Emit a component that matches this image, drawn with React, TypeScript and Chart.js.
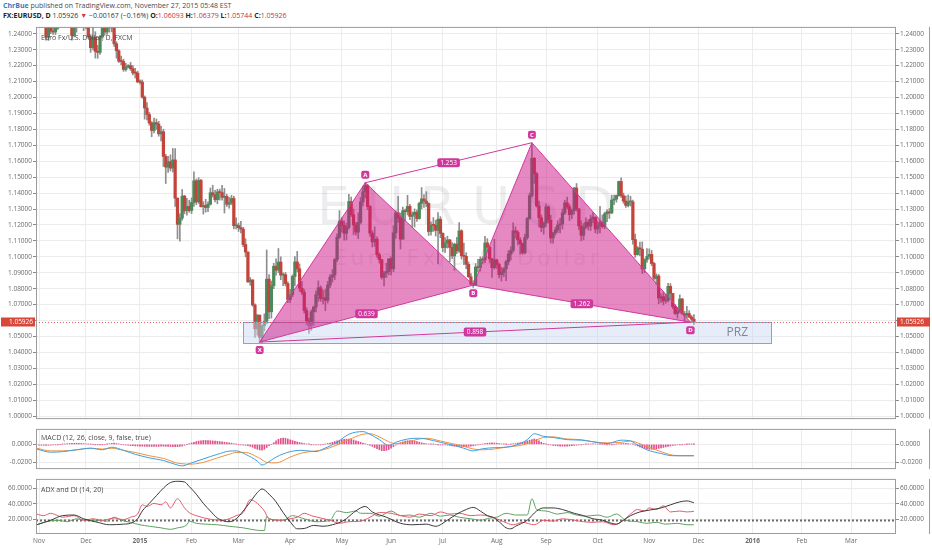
import React, { useEffect, useRef } from 'react';
import { Chart, registerables } from 'chart.js';

Chart.register(...registerables);

const FONT = "'Open Sans', 'Noto Sans', sans-serif";
const WM_FONT = "'DejaVu Sans', sans-serif";

// ---------- DATA ----------
// x = trading-day index, 0 = Mon 3 Nov 2014 (every weekday is a bar)
const monthTickIdx = [0, 20, 43, 65, 85, 107, 129, 150, 172, 195, 216, 238, 260, 281, 304, 325, 346];
const monthTickLabels = ['Nov', 'Dec', '2015', 'Feb', 'Mar', 'Apr', 'May', 'Jun', 'Jul', 'Aug', 'Sep', 'Oct', 'Nov', 'Dec', '2016', 'Feb', 'Mar'];
const yearLabels = ['2015', '2016'];

const priceTicks = [1.0, 1.01, 1.02, 1.03, 1.04, 1.05, 1.06, 1.07, 1.08, 1.09, 1.1, 1.11, 1.12, 1.13, 1.14, 1.15, 1.16, 1.17, 1.18, 1.19, 1.2, 1.21, 1.22, 1.23, 1.24];
const hiddenPriceTick = 1.06;
const macdTicks = [0, -0.02];
const adxTicks = [20, 40, 60];

const firstOpen = 1.2525;
const closes = [
  1.2482, 1.2503, 1.2487, 1.2378, 1.2454, 1.2416, 1.2411, 1.2435, 1.2476, 1.2527, 1.2452, 1.2537, 1.2544, 1.2542, 1.2389, 1.2438, 1.2469, 1.2504, 1.2467, 1.2450,
  1.2470, 1.2381, 1.2313, 1.2378, 1.2289, 1.2283, 1.2380, 1.2445, 1.2411, 1.2465, 1.2437, 1.2500, 1.2337, 1.2293, 1.2228, 1.2226, 1.2176, 1.2191, 1.2200, 1.2181, 1.2154, 1.2153, 1.2098,
  1.2097, 1.2002, 1.1934, 1.1893, 1.1840, 1.1793, 1.1842, 1.1833, 1.1772, 1.1785, 1.1630, 1.1563, 1.1597, 1.1557, 1.1608, 1.1368, 1.1204, 1.1243, 1.1381, 1.1289, 1.1317, 1.1291,
  1.1341, 1.1477, 1.1345, 1.1479, 1.1315, 1.1322, 1.1310, 1.1330, 1.1402, 1.1389, 1.1359, 1.1407, 1.1403, 1.1373, 1.1379, 1.1330, 1.1339, 1.1366, 1.1195, 1.1196,
  1.1183, 1.1174, 1.1077, 1.1030, 1.0843, 1.0854, 1.0698, 1.0548, 1.0634, 1.0495, 1.0567, 1.0595, 1.0860, 1.0655, 1.0819, 1.0941, 1.0917, 1.0967, 1.0885, 1.0888, 1.0832, 1.0732,
  1.0763, 1.0877, 1.0968, 1.0925, 1.0803, 1.0778, 1.0663, 1.0598, 1.0569, 1.0655, 1.0685, 1.0762, 1.0806, 1.0737, 1.0743, 1.0727, 1.0823, 1.0873, 1.0886, 1.0983, 1.1124, 1.1224,
  1.1198, 1.1148, 1.1185, 1.1347, 1.1264, 1.1200, 1.1155, 1.1216, 1.1345, 1.1409, 1.1448, 1.1316, 1.1149, 1.1094, 1.1111, 1.1013, 1.0982, 1.0872, 1.0899, 1.0907, 1.0987,
  1.0925, 1.1151, 1.1277, 1.1244, 1.1111, 1.1290, 1.1283, 1.1317, 1.1254, 1.1264, 1.1280, 1.1240, 1.1335, 1.1363, 1.1350, 1.1335, 1.1159, 1.1201, 1.1198, 1.1166, 1.1236, 1.1147,
  1.1058, 1.1087, 1.1106, 1.1059, 1.1006, 1.1079, 1.1037, 1.1163, 1.1006, 1.1003, 1.0953, 1.0875, 1.0829, 1.0826, 1.0936, 1.0932, 1.0984, 1.0981, 1.1087, 1.1060, 1.0987, 1.0932, 1.0981,
  1.0952, 1.0888, 1.0902, 1.0925, 1.0969, 1.1017, 1.1040, 1.1163, 1.1153, 1.1106, 1.1083, 1.1025, 1.1121, 1.1240, 1.1384, 1.1618, 1.1521, 1.1319, 1.1245, 1.1184, 1.1211,
  1.1313, 1.1229, 1.1118, 1.1150, 1.1169, 1.1200, 1.1206, 1.1276, 1.1339, 1.1314, 1.1265, 1.1290, 1.1432, 1.1300, 1.1194, 1.1135, 1.1186, 1.1216, 1.1193, 1.1237, 1.1249, 1.1175,
  1.1195, 1.1215, 1.1191, 1.1270, 1.1282, 1.1276, 1.1356, 1.1362, 1.1385, 1.1473, 1.1383, 1.1350, 1.1323, 1.1345, 1.1345, 1.1108, 1.1014, 1.1056, 1.1048, 1.0925, 1.0981, 1.1002,
  1.1015, 1.0958, 1.0865, 1.0879, 1.0741, 1.0750, 1.0724, 1.0728, 1.0815, 1.0770, 1.0687, 1.0644, 1.0655, 1.0735, 1.0644, 1.0633, 1.0644, 1.0622, 1.0609, 1.0593,
];
const highs = [
  1.2530, 1.2535, 1.2533, 1.2532, 1.2469, 1.2470, 1.2466, 1.2479, 1.2494, 1.2545, 1.2577, 1.2545, 1.2599, 1.2602, 1.2600, 1.2448, 1.2499, 1.2532, 1.2509, 1.2481,
  1.2500, 1.2480, 1.2395, 1.2456, 1.2413, 1.2327, 1.2390, 1.2460, 1.2457, 1.2472, 1.2478, 1.2570, 1.2510, 1.2350, 1.2300, 1.2260, 1.2240, 1.2215, 1.2206, 1.2220, 1.2200, 1.2183, 1.2165,
  1.2110, 1.2110, 1.2010, 1.1968, 1.1906, 1.1849, 1.1870, 1.1865, 1.1850, 1.1819, 1.1801, 1.1643, 1.1630, 1.1640, 1.1680, 1.1679, 1.1370, 1.1270, 1.1423, 1.1386, 1.1367, 1.1355,
  1.1370, 1.1534, 1.1488, 1.1497, 1.1487, 1.1346, 1.1361, 1.1345, 1.1432, 1.1449, 1.1417, 1.1424, 1.1425, 1.1449, 1.1429, 1.1393, 1.1373, 1.1386, 1.1380, 1.1245,
  1.1212, 1.1223, 1.1185, 1.1114, 1.1032, 1.0870, 1.0858, 1.0705, 1.0638, 1.0635, 1.0573, 1.0642, 1.1043, 1.0888, 1.0848, 1.0959, 1.0988, 1.1052, 1.1000, 1.0900, 1.0902, 1.0843,
  1.0796, 1.0887, 1.1001, 1.1034, 1.0956, 1.0846, 1.0795, 1.0680, 1.0615, 1.0667, 1.0691, 1.0785, 1.0849, 1.0818, 1.0791, 1.0797, 1.0846, 1.0888, 1.0920, 1.0989, 1.1144, 1.1290,
  1.1246, 1.1224, 1.1211, 1.1392, 1.1375, 1.1300, 1.1217, 1.1276, 1.1372, 1.1444, 1.1467, 1.1455, 1.1322, 1.1163, 1.1188, 1.1126, 1.1025, 1.0985, 1.0909, 1.0960, 1.0989,
  1.1000, 1.1195, 1.1290, 1.1380, 1.1275, 1.1312, 1.1300, 1.1386, 1.1330, 1.1282, 1.1301, 1.1293, 1.1343, 1.1435, 1.1390, 1.1409, 1.1339, 1.1219, 1.1246, 1.1229, 1.1278, 1.1252,
  1.1151, 1.1120, 1.1130, 1.1110, 1.1089, 1.1086, 1.1122, 1.1215, 1.1170, 1.1086, 1.1026, 1.0968, 1.0895, 1.0850, 1.0958, 1.0985, 1.1000, 1.1000, 1.1128, 1.1114, 1.1068, 1.0990, 1.1110,
  1.0985, 1.0960, 1.0934, 1.0932, 1.0978, 1.1039, 1.1063, 1.1213, 1.1188, 1.1165, 1.1121, 1.1086, 1.1143, 1.1247, 1.1400, 1.1714, 1.1624, 1.1530, 1.1350, 1.1263, 1.1218,
  1.1331, 1.1320, 1.1262, 1.1154, 1.1187, 1.1227, 1.1242, 1.1300, 1.1355, 1.1375, 1.1330, 1.1300, 1.1436, 1.1460, 1.1302, 1.1226, 1.1209, 1.1245, 1.1232, 1.1262, 1.1277, 1.1250,
  1.1220, 1.1317, 1.1263, 1.1280, 1.1295, 1.1303, 1.1387, 1.1388, 1.1388, 1.1475, 1.1495, 1.1400, 1.1382, 1.1388, 1.1380, 1.1356, 1.1143, 1.1065, 1.1093, 1.1094, 1.0988, 1.1052,
  1.1050, 1.1040, 1.0965, 1.0893, 1.0890, 1.0768, 1.0780, 1.0765, 1.0833, 1.0832, 1.0771, 1.0700, 1.0681, 1.0761, 1.0739, 1.0658, 1.0690, 1.0662, 1.0632, 1.0638,
];
const lows = [
  1.2442, 1.2440, 1.2456, 1.2359, 1.2358, 1.2400, 1.2396, 1.2395, 1.2427, 1.2445, 1.2443, 1.2443, 1.2505, 1.2500, 1.2359, 1.2380, 1.2410, 1.2447, 1.2455, 1.2419,
  1.2430, 1.2372, 1.2283, 1.2299, 1.2247, 1.2246, 1.2270, 1.2370, 1.2390, 1.2395, 1.2410, 1.2412, 1.2320, 1.2247, 1.2219, 1.2205, 1.2164, 1.2165, 1.2186, 1.2170, 1.2141, 1.2122, 1.2092,
  1.2085, 1.1995, 1.1864, 1.1859, 1.1826, 1.1754, 1.1778, 1.1800, 1.1757, 1.1727, 1.1567, 1.1460, 1.1530, 1.1539, 1.1532, 1.1316, 1.1113, 1.1098, 1.1230, 1.1270, 1.1262, 1.1279,
  1.1271, 1.1317, 1.1327, 1.1335, 1.1312, 1.1268, 1.1280, 1.1283, 1.1325, 1.1375, 1.1345, 1.1333, 1.1356, 1.1356, 1.1275, 1.1316, 1.1305, 1.1327, 1.1175, 1.1175,
  1.1159, 1.1150, 1.1063, 1.1000, 1.0840, 1.0821, 1.0689, 1.0494, 1.0508, 1.0462, 1.0458, 1.0535, 1.0580, 1.0612, 1.0615, 1.0800, 1.0885, 1.0900, 1.0856, 1.0819, 1.0817, 1.0713,
  1.0712, 1.0750, 1.0818, 1.0905, 1.0783, 1.0762, 1.0647, 1.0573, 1.0520, 1.0538, 1.0570, 1.0655, 1.0720, 1.0720, 1.0705, 1.0662, 1.0710, 1.0807, 1.0842, 1.0858, 1.0970, 1.1114,
  1.1155, 1.1105, 1.1106, 1.1173, 1.1253, 1.1139, 1.1136, 1.1114, 1.1206, 1.1320, 1.1370, 1.1296, 1.1128, 1.1062, 1.1065, 1.0996, 1.0960, 1.0860, 1.0818, 1.0870, 1.0887,
  1.0886, 1.0907, 1.1116, 1.1216, 1.1049, 1.1110, 1.1225, 1.1263, 1.1233, 1.1187, 1.1187, 1.1222, 1.1236, 1.1300, 1.1310, 1.1315, 1.1134, 1.1136, 1.1160, 1.1130, 1.0955, 1.1120,
  1.1032, 1.1028, 1.1055, 1.0968, 1.0990, 1.0915, 1.1020, 1.1027, 1.0986, 1.0950, 1.0925, 1.0870, 1.0826, 1.0808, 1.0820, 1.0906, 1.0910, 1.0957, 1.0963, 1.1030, 1.0965, 1.0870, 1.0922,
  1.0928, 1.0868, 1.0848, 1.0875, 1.0850, 1.0950, 1.0980, 1.1028, 1.1117, 1.1075, 1.1016, 1.1015, 1.1018, 1.1110, 1.1235, 1.1375, 1.1461, 1.1312, 1.1188, 1.1157, 1.1142,
  1.1190, 1.1213, 1.1087, 1.1086, 1.1136, 1.1153, 1.1150, 1.1175, 1.1265, 1.1300, 1.1228, 1.1240, 1.1268, 1.1287, 1.1170, 1.1100, 1.1106, 1.1176, 1.1168, 1.1165, 1.1215, 1.1150,
  1.1145, 1.1150, 1.1180, 1.1176, 1.1220, 1.1240, 1.1270, 1.1328, 1.1343, 1.1380, 1.1373, 1.1336, 1.1310, 1.1313, 1.1319, 1.1080, 1.0996, 1.1010, 1.1007, 1.0895, 1.0900, 1.0965,
  1.0987, 1.0945, 1.0853, 1.0827, 1.0706, 1.0712, 1.0698, 1.0708, 1.0717, 1.0737, 1.0674, 1.0638, 1.0616, 1.0651, 1.0638, 1.0592, 1.0618, 1.0617, 1.0593, 1.0574,
];

// MACD (12, 26, close, 9)
const macdIdx = [-1, 5, 10, 16, 22, 27, 31, 36, 41, 47, 53, 59, 61, 64, 70, 76, 81, 84, 88, 93, 95, 97, 101, 107, 112, 118, 121, 127, 132, 138, 141, 145, 149, 152, 157, 162, 165, 171, 176, 181, 185, 189, 194, 199, 205, 208, 211, 215, 219, 225, 231, 236, 242, 248, 252, 255, 259, 265, 270, 274, 279];
const macdLine = [-0.0052, -0.0088, -0.0082, -0.0061, -0.0043, -0.0061, -0.0031, -0.0067, -0.0112, -0.0152, -0.0182, -0.0233, -0.0243, -0.0218, -0.0164, -0.0112, -0.0076, -0.0073, -0.0112, -0.0188, -0.0233, -0.0212, -0.0143, -0.0082, -0.0067, -0.0082, -0.0052, 0.0024, 0.0115, 0.0145, 0.0115, 0.0054, -0.0012, 0.0024, 0.0061, 0.0070, 0.0061, 0.0024, -0.0006, -0.0043, -0.0073, -0.0049, -0.0037, -0.0031, 0.0009, 0.0054, 0.0121, 0.0091, 0.0079, 0.0054, 0.0048, 0.0030, 0.0009, 0.0048, 0.0039, -0.0006, -0.0061, -0.0103, -0.0128, -0.0128, -0.0128];
const signalLine = [-0.0043, -0.0073, -0.0073, -0.0061, -0.0043, -0.0052, -0.0043, -0.0067, -0.0091, -0.0128, -0.0158, -0.0212, -0.0218, -0.0224, -0.0203, -0.0152, -0.0112, -0.0091, -0.0091, -0.0143, -0.0173, -0.0203, -0.0209, -0.0143, -0.0097, -0.0073, -0.0061, -0.0006, 0.0054, 0.0115, 0.0121, 0.0085, 0.0030, 0.0009, 0.0030, 0.0061, 0.0070, 0.0039, 0.0009, -0.0021, -0.0052, -0.0061, -0.0052, -0.0031, -0.0012, 0.0009, 0.0039, 0.0079, 0.0085, 0.0061, 0.0054, 0.0030, 0.0018, 0.0024, 0.0039, 0.0018, -0.0024, -0.0082, -0.0122, -0.0128, -0.0128];
// histogram, one value per bar, in units of 0.0001
const histE4 = [
  -8, -9, -10, -10, -9, -8, -6, -4, -2, 0,
  2, 5, 8, 10, 12, 13, 14, 13, 11, 9,
  6, 4, 2, 0, -2, -3, -2, -1, 0,
  4, 8, 12, 14, 10,
  5, 0, -4, -7, -10, -13, -15, -17, -18, -19, -20, -21, -22, -22, -23, -23, -22, -22, -21, -21, -22, -23, -24, -25, -25, -26, -24, -18, -10,
  0, 8, 16, 24, 32, 38, 42, 45, 45, 44, 42, 40, 38, 35,
  32, 28, 25, 22, 18, 13, 8, 3,
  -2, -5, -8, -10, -14,
  -22, -32, -45, -55, -62, -66, -55,
  -35, -15, 0,
  20, 40, 58, 68, 72, 70, 62,
  52, 44, 36, 28, 22, 16, 10,
  6, 2, -2, -5, -6, -5, -3, 0,
  4, 10, 16, 24, 32, 40, 48, 54, 58, 60, 60, 56, 50, 42,
  34, 25, 16, 8, 0,
  -10, -22, -35, -48, -60, -70, -72, -68, -58, -42, -25,
  -8, 8, 20, 30, 38, 42, 44, 42, 38, 32, 25, 18, 12,
  8, 5, 3, 2, 0, -2, -3, -4, -5,
  -8, -12, -16, -20, -22, -24, -25, -26, -25, -23, -20, -16, -10, -5, 0,
  5, 10, 14, 16, 17, 16, 14, 10, 6,
  3, 1, 0, 2,
  6, 10, 15, 20, 25, 32, 40, 48, 56, 62, 55, 40, 25,
  12, 4, -2, -6,
  -10, -14, -17, -19, -20, -20, -19, -17, -15, -12, -9, -6, -3,
  0, 2, 4, 5, 6, 5, 4, 3, 2, 0, -2, -3, -2, 0,
  3, 6, 9, 11, 12, 10, 6, 2,
  -8, -18, -28, -38, -46, -52, -55, -56, -55, -50, -45, -40, -34, -28, -22, -17, -12, -8,
  -6, -3, -1, 0, 1, 2, 2, 1,
];

// ADX and DI (14, 20)
const adxIdx = [-1, 5, 10, 15, 19, 25, 30, 36, 39, 42, 44, 47, 50, 53, 56, 59, 62, 64, 67, 70, 73, 76, 79, 81, 84, 87, 90, 93, 95, 98, 101, 104, 107, 110, 113, 117, 121, 125, 130, 134, 137, 139, 142, 148, 154, 159, 165, 169, 174, 178, 182, 185, 188, 191, 194, 196, 199, 201, 203, 208, 212, 215, 219, 223, 228, 232, 236, 240, 243, 246, 249, 252, 256, 260, 265, 269, 273, 276, 279];
const adxVals = [13.4, 19.2, 25, 25.8, 21, 16.5, 13.4, 14.2, 15.3, 21, 30.9, 40.6, 50.3, 60, 67, 68.6, 67.8, 62, 52.3, 40.6, 30.9, 21.9, 18, 17.3, 21, 30.9, 42.5, 54.2, 58.9, 52.3, 42.5, 28.9, 17.3, 8.3, 8.7, 12.6, 11.5, 13.4, 19.2, 28.9, 34.8, 36.7, 29.7, 23, 15.3, 13.4, 14.2, 11.5, 19.2, 27, 32.8, 35.5, 30.9, 25, 22, 17.3, 9.5, 8.3, 11.5, 19.2, 30.9, 34.8, 34.8, 32.8, 28, 25, 21, 19.2, 16.1, 14.2, 19.2, 25, 29.7, 32, 34.8, 38.7, 42.5, 43.7, 41.4];
const diPlusIdx = [-1, 3, 8, 12, 16, 20, 25, 29, 32, 35, 39, 43, 47, 52, 56, 59, 63, 64, 67, 71, 76, 81, 87, 93, 96, 97, 98, 104, 108, 113, 118, 124, 127, 131, 135, 137, 141, 145, 150, 154, 158, 162, 167, 171, 175, 179, 184, 188, 192, 195, 199, 203, 208, 210, 212, 216, 221, 225, 229, 233, 238, 242, 246, 250, 255, 259, 263, 267, 272, 276, 279];
const diPlusVals = [13.4, 17.3, 19.2, 17.3, 21, 19.2, 19.2, 18, 23, 19.2, 16.5, 13.4, 11.5, 9.5, 7.6, 9.5, 13.4, 18, 15.3, 14.2, 13.4, 11.5, 9.5, 6.4, 6, 24, 21, 19.2, 25, 21, 17.3, 19.2, 30.9, 28.9, 30.9, 28, 28, 24.3, 30.9, 25, 25.8, 23, 28, 24.3, 25.8, 23, 21, 19.2, 21.9, 23, 28, 25.8, 25.8, 46.4, 32.8, 30.9, 27, 28.9, 25.8, 24.3, 25.8, 23, 27, 19.2, 17.3, 15.3, 16.5, 14.2, 15.3, 13.4, 13.4];
const diMinusIdx = [-1, 2, 5, 8, 10, 15, 19, 23, 27, 32, 36, 39, 42, 44, 46, 49, 52, 54, 56, 59, 62, 64, 67, 73, 78, 81, 84, 87, 90, 93, 96, 98, 103, 107, 110, 113, 116, 120, 124, 128, 132, 137, 141, 145, 150, 154, 158, 162, 167, 171, 175, 179, 184, 188, 192, 195, 198, 202, 206, 211, 215, 219, 223, 228, 232, 236, 240, 245, 249, 252, 255, 258, 260, 263, 266, 269, 273, 276, 279];
const diMinusVals = [27, 25, 28, 25, 23, 25, 19, 21, 19, 22, 20, 23, 27, 38.7, 36.7, 40.6, 38.7, 42.5, 34.8, 46.4, 34.8, 28.9, 25, 20.4, 19.2, 21, 25, 28.9, 45.3, 40.6, 30.9, 21, 19.2, 21, 23, 28, 25, 21.9, 19.2, 15.3, 17.3, 18, 23, 28.9, 28, 25, 23, 27, 25, 29.7, 27, 28, 25, 25.8, 24.3, 21, 17.3, 13.4, 16.5, 13.4, 19.2, 18, 21, 19.2, 17.3, 16.5, 17.3, 13.4, 19.2, 27, 32.8, 30.9, 34.8, 32.8, 37.5, 29.7, 30.9, 29.7, 30.5];
const adxLevel = 20;

// XABCD pattern drawing
const patternNames = ['X', 'A', 'B', 'C', 'D'];
const patternIdx = [94, 139, 185, 210, 277.5];
const patternPrice = [1.0465, 1.1465, 1.0822, 1.1716, 1.0590];
const ratioLabels = ['0.639', '1.253', '1.262', '0.898'];
const ratioFrom = [0, 1, 2, 0];
const ratioTo = [2, 3, 4, 4];
const przIdx = [87, 312];
const przPrice = [1.0593, 1.0460];
const przLabelAt = [297.5, 1.0526];

const lastPrice = 1.05926;
const quoteChange = '\u22120.00167 (\u22120.16%)';
const quoteOHLC = ['1.06093', '1.06379', '1.05744', '1.05926'];

// ---------- VIEW ----------
const X_MIN = -1.28;
const X_MAX = 365.1;
const PRICE_MIN = 0.99816;
const PRICE_MAX = 1.24429;
const MACD_MIN = -0.02791;
const MACD_MAX = 0.01755;
const ADX_MIN = 1.69;
const ADX_MAX = 71.66;

const GRID = '#ececec';
const FRAME = '#9c9c9c';
const TICK_TXT = '#6b6b6b';
const PINK = '#d1389d';

function xScale(withLabels: boolean): any {
  return {
    type: 'linear',
    min: X_MIN,
    max: X_MAX,
    offset: false,
    afterBuildTicks: (s: any) => {
      s.ticks = monthTickIdx.map((v) => ({ value: v }));
    },
    grid: { color: GRID, drawTicks: false, offset: false },
    border: { display: false },
    ticks: withLabels
      ? {
          autoSkip: false,
          maxRotation: 0,
          padding: 3,
          color: TICK_TXT,
          font: (c: any) => ({
            family: FONT,
            size: 6.5,
            weight: c.tick && yearLabels.includes(c.tick.label) ? 'bold' : 'normal',
          }),
          callback: (v: number) => monthTickLabels[monthTickIdx.indexOf(v)] ?? '',
        }
      : { display: false },
    afterFit: (s: any) => {
      s.height = withLabels ? 16 : 0;
    },
  };
}

function yScale(pos: 'left' | 'right', min: number, max: number, ticks: number[], fmt: (v: number) => string): any {
  return {
    type: 'linear',
    position: pos,
    min,
    max,
    afterBuildTicks: (s: any) => {
      s.ticks = ticks.map((v) => ({ value: v }));
    },
    grid: {
      color: GRID,
      drawOnChartArea: pos === 'left',
      drawTicks: true,
      tickLength: 3,
      tickColor: '#8a8a8a',
    },
    border: { display: false },
    ticks: {
      autoSkip: false,
      padding: 1,
      color: TICK_TXT,
      font: { family: FONT, size: 6.5 },
      callback: (v: number) => fmt(v),
    },
    afterFit: (s: any) => {
      s.width = 36;
    },
  };
}

const baseOptions = {
  responsive: false,
  maintainAspectRatio: false,
  animation: false,
  events: [],
  layout: { padding: 0, autoPadding: false },
  plugins: { legend: { display: false }, tooltip: { enabled: false }, title: { display: false } },
};

function drawFrame(chart: any) {
  const { ctx, chartArea: a, width } = chart;
  ctx.save();
  ctx.strokeStyle = FRAME;
  ctx.lineWidth = 1;
  ctx.strokeRect(a.left + 0.5, a.top + 0.5, a.width - 1, a.height - 1);
  ctx.beginPath();
  ctx.moveTo(width - 2.5, a.top);
  ctx.lineTo(width - 2.5, a.bottom);
  ctx.stroke();
  ctx.restore();
}

function panelTitle(chart: any, text: string, dy: number) {
  const { ctx, chartArea: a } = chart;
  ctx.save();
  ctx.fillStyle = '#4a4a4a';
  ctx.font = `7px ${FONT}`;
  ctx.textAlign = 'left';
  ctx.textBaseline = 'middle';
  ctx.fillText(text, a.left + 5, a.top + dy);
  ctx.restore();
}

function tag(ctx: CanvasRenderingContext2D, text: string, cx: number, cy: number, font: string, padX: number, h: number) {
  ctx.font = font;
  const w = ctx.measureText(text).width + padX * 2;
  ctx.fillStyle = PINK;
  ctx.beginPath();
  (ctx as any).roundRect(cx - w / 2, cy - h / 2, w, h, 2);
  ctx.fill();
  ctx.fillStyle = '#ffffff';
  ctx.textAlign = 'center';
  ctx.textBaseline = 'middle';
  ctx.fillText(text, cx, cy + 0.5);
}

function spacedText(ctx: any, text: string, cx: number, cy: number, font: string, spacing: number) {
  ctx.font = font;
  ctx.letterSpacing = `${spacing}px`;
  ctx.fillText(text, cx + spacing / 2, cy);
  ctx.letterSpacing = '0px';
}

const mainDecor = {
  id: 'mainDecor',
  beforeDatasetsDraw(chart: any) {
    const { ctx, chartArea: a } = chart;
    ctx.save();
    ctx.beginPath();
    ctx.rect(a.left, a.top, a.width, a.height);
    ctx.clip();
    ctx.fillStyle = 'rgba(60,60,75,0.09)';
    ctx.textAlign = 'center';
    ctx.textBaseline = 'middle';
    const cx = (a.left + a.right) / 2;
    spacedText(ctx, 'EURUSD', cx, a.top + 184, `52px ${WM_FONT}`, 16);
    spacedText(ctx, 'Euro Fx/U.S. Dollar', cx, a.top + 232, `22px ${WM_FONT}`, 3.3);
    ctx.restore();
  },
  afterDatasetsDraw(chart: any) {
    const { ctx, chartArea: a, scales } = chart;
    const px = (i: number) => scales.x.getPixelForValue(i);
    const py = (v: number) => scales.y.getPixelForValue(v);
    ctx.save();
    ctx.beginPath();
    ctx.rect(a.left, a.top, a.width, a.height);
    ctx.clip();

    // PRZ box
    const x0 = px(przIdx[0]);
    const x1 = px(przIdx[1]);
    const y0 = py(przPrice[0]);
    const y1 = py(przPrice[1]);
    ctx.fillStyle = 'rgba(200,215,240,0.45)';
    ctx.fillRect(x0, y0, x1 - x0, y1 - y0);
    ctx.strokeStyle = '#8fa2c6';
    ctx.lineWidth = 1;
    ctx.strokeRect(Math.round(x0) + 0.5, Math.round(y0) + 0.5, Math.round(x1 - x0), Math.round(y1 - y0));

    // last price line
    const yl = Math.round(py(lastPrice)) + 0.5;
    ctx.strokeStyle = 'rgba(226,80,80,0.9)';
    ctx.setLineDash([1, 2]);
    ctx.beginPath();
    ctx.moveTo(a.left, yl);
    ctx.lineTo(a.right, yl);
    ctx.stroke();
    ctx.setLineDash([]);

    // XABCD
    const P = patternIdx.map((i, k) => [px(i), py(patternPrice[k])]);
    const [X, A, B, C, D] = P;
    const tri = (p: number[], q: number[], r: number[]) => {
      ctx.beginPath();
      ctx.moveTo(p[0], p[1]);
      ctx.lineTo(q[0], q[1]);
      ctx.lineTo(r[0], r[1]);
      ctx.closePath();
    };
    ctx.fillStyle = 'rgba(205,20,135,0.5)';
    tri(X, A, B);
    ctx.fill();
    tri(B, C, D);
    ctx.fill();
    ctx.strokeStyle = PINK;
    ctx.lineWidth = 1;
    tri(X, A, B);
    ctx.stroke();
    tri(B, C, D);
    ctx.stroke();
    ctx.beginPath();
    ctx.moveTo(X[0], X[1]);
    ctx.lineTo(D[0], D[1]);
    ctx.moveTo(A[0], A[1]);
    ctx.lineTo(C[0], C[1]);
    ctx.stroke();

    // ratio tags at segment midpoints
    ratioLabels.forEach((t, k) => {
      const p = P[ratioFrom[k]];
      const q = P[ratioTo[k]];
      tag(ctx, t, (p[0] + q[0]) / 2, (p[1] + q[1]) / 2, `6.5px ${FONT}`, 3, 9);
    });
    // point tags (X, B, D below; A, C above)
    patternNames.forEach((n, k) => {
      const above = patternPrice[k] > (patternPrice[Math.max(0, k - 1)] + patternPrice[Math.min(4, k + 1)]) / 2;
      const dy = above ? -8 : 8;
      tag(ctx, n, P[k][0], P[k][1] + dy, `bold 6px ${FONT}`, 2, 8);
    });

    // PRZ text
    ctx.fillStyle = '#7d8899';
    ctx.font = `12px ${FONT}`;
    ctx.textAlign = 'center';
    ctx.textBaseline = 'middle';
    ctx.fillText('PRZ', px(przLabelAt[0]), py(przLabelAt[1]));
    ctx.restore();
  },
  afterDraw(chart: any) {
    const { ctx, chartArea: a, scales } = chart;
    drawFrame(chart);
    panelTitle(chart, 'Euro Fx/U.S. Dollar, D, FXCM', 11);
    const y = Math.round(scales.y.getPixelForValue(lastPrice));
    const txt = lastPrice.toFixed(5);
    ctx.save();
    ctx.fillStyle = '#d9463a';
    ctx.fillRect(a.right + 1, y - 4.5, 33, 9);
    ctx.fillRect(1, y - 4.5, a.left - 2, 9);
    ctx.fillStyle = '#ffffff';
    ctx.font = `6.5px ${FONT}`;
    ctx.textBaseline = 'middle';
    ctx.textAlign = 'left';
    ctx.fillText(txt, a.right + 4, y + 0.5);
    ctx.textAlign = 'right';
    ctx.fillText(txt, a.left - 3, y + 0.5);
    ctx.restore();
  },
};

const macdDecor = {
  id: 'macdDecor',
  afterDraw(chart: any) {
    drawFrame(chart);
    panelTitle(chart, 'MACD (12, 26, close, 9, false, true)', 9);
  },
};

const adxDecor = {
  id: 'adxDecor',
  beforeDatasetsDraw(chart: any) {
    const { ctx, chartArea: a, scales } = chart;
    const y = Math.round(scales.y.getPixelForValue(adxLevel)) + 0.5;
    ctx.save();
    ctx.strokeStyle = 'rgba(80,80,80,0.85)';
    ctx.lineWidth = 2;
    ctx.setLineDash([2, 2]);
    ctx.beginPath();
    ctx.moveTo(a.left, y);
    ctx.lineTo(a.right, y);
    ctx.stroke();
    ctx.restore();
  },
  afterDraw(chart: any) {
    drawFrame(chart);
    panelTitle(chart, 'ADX and DI (14, 20)', 11);
  },
};

function lineSet(idx: number[], vals: number[], color: string, order: number): any {
  return {
    type: 'line',
    data: idx.map((x, k) => ({ x, y: vals[k] })),
    borderColor: color,
    borderWidth: 1,
    pointRadius: 0,
    cubicInterpolationMode: 'monotone',
    fill: false,
    order,
  };
}

export default function App() {
  const mainRef = useRef<HTMLCanvasElement>(null);
  const macdRef = useRef<HTMLCanvasElement>(null);
  const adxRef = useRef<HTMLCanvasElement>(null);

  useEffect(() => {
    Chart.defaults.font.family = FONT;
    const opens = closes.map((c, i) => (i === 0 ? firstOpen : closes[i - 1]));
    const idxs = closes.map((_, i) => i);
    const up = idxs.map((i) => closes[i] >= opens[i]);

    const main = new Chart(mainRef.current as HTMLCanvasElement, {
      type: 'bar',
      data: {
        datasets: [
          {
            type: 'bar',
            data: idxs.map((i) => ({ x: i, y: [opens[i], closes[i]] })),
            backgroundColor: idxs.map((i) => (up[i] ? '#4c8a5b' : '#c2443a')),
            barThickness: 2.6,
            minBarLength: 1,
            grouped: false,
            order: 0,
          } as any,
          {
            type: 'bar',
            data: idxs.map((i) => ({ x: i, y: [lows[i], highs[i]] })),
            backgroundColor: '#8e8e8e',
            barThickness: 1,
            grouped: false,
            order: 1,
          } as any,
        ],
      },
      options: {
        ...baseOptions,
        scales: {
          x: xScale(false),
          y: yScale('left', PRICE_MIN, PRICE_MAX, priceTicks, (v) => (v === hiddenPriceTick ? '' : v.toFixed(5))),
          y2: yScale('right', PRICE_MIN, PRICE_MAX, priceTicks, (v) => (v === hiddenPriceTick ? '' : v.toFixed(5))),
        },
      } as any,
      plugins: [mainDecor],
    });

    const macd = new Chart(macdRef.current as HTMLCanvasElement, {
      type: 'bar',
      data: {
        datasets: [
          lineSet(macdIdx, macdLine, '#3d9fe0', 0),
          lineSet(macdIdx, signalLine, '#f0913c', 1),
          {
            type: 'bar',
            data: histE4.map((v, i) => ({ x: i, y: v / 10000 })),
            backgroundColor: '#e2508c',
            barThickness: 1,
            grouped: false,
            order: 2,
          } as any,
        ],
      },
      options: {
        ...baseOptions,
        scales: {
          x: xScale(false),
          y: yScale('left', MACD_MIN, MACD_MAX, macdTicks, (v) => v.toFixed(4)),
          y2: yScale('right', MACD_MIN, MACD_MAX, macdTicks, (v) => v.toFixed(4)),
        },
      } as any,
      plugins: [macdDecor],
    });

    const adx = new Chart(adxRef.current as HTMLCanvasElement, {
      type: 'line',
      data: {
        datasets: [
          lineSet(adxIdx, adxVals, '#3a3a3a', 0),
          lineSet(diMinusIdx, diMinusVals, '#e65a6c', 1),
          lineSet(diPlusIdx, diPlusVals, '#5ea35f', 2),
        ],
      },
      options: {
        ...baseOptions,
        scales: {
          x: xScale(true),
          y: yScale('left', ADX_MIN, ADX_MAX, adxTicks, (v) => v.toFixed(4)),
          y2: yScale('right', ADX_MIN, ADX_MAX, adxTicks, (v) => v.toFixed(4)),
        },
      } as any,
      plugins: [adxDecor],
    });

    return () => {
      main.destroy();
      macd.destroy();
      adx.destroy();
    };
  }, []);

  const red = { color: '#c2323a' };
  const b = { fontWeight: 700, color: '#222' };
  return (
    <div style={{ position: 'absolute', left: 0, top: 0, width: 932, height: 550, background: '#fff', overflow: 'hidden' }}>
      <div style={{ position: 'absolute', left: 3, top: 1, font: `7px ${FONT}`, lineHeight: '10px', color: '#4a4a4a', whiteSpace: 'nowrap' }}>
        <span style={{ color: '#2f7cc1', fontWeight: 700 }}>ChrBue</span> published on TradingView.com, November 27, 2015 05:48 EST
      </div>
      <div style={{ position: 'absolute', left: 3, top: 11, font: `7px ${FONT}`, lineHeight: '10px', color: '#333', whiteSpace: 'nowrap' }}>
        <span style={b}>FX:EURUSD, D</span> {lastPrice.toFixed(5)} <span style={{ color: '#d23c3c' }}>▼</span> {quoteChange}{' '}
        <span style={b}>O:</span><span style={red}>{quoteOHLC[0]}</span> <span style={b}>H:</span><span style={red}>{quoteOHLC[1]}</span>{' '}
        <span style={b}>L:</span><span style={red}>{quoteOHLC[2]}</span> <span style={b}>C:</span><span style={red}>{quoteOHLC[3]}</span>
      </div>
      <canvas ref={mainRef} width={932} height={402} style={{ position: 'absolute', left: 0, top: 22, width: 932, height: 402 }} />
      <canvas ref={macdRef} width={932} height={50} style={{ position: 'absolute', left: 0, top: 424, width: 932, height: 50 }} />
      <canvas ref={adxRef} width={932} height={76} style={{ position: 'absolute', left: 0, top: 474, width: 932, height: 76 }} />
    </div>
  );
}
